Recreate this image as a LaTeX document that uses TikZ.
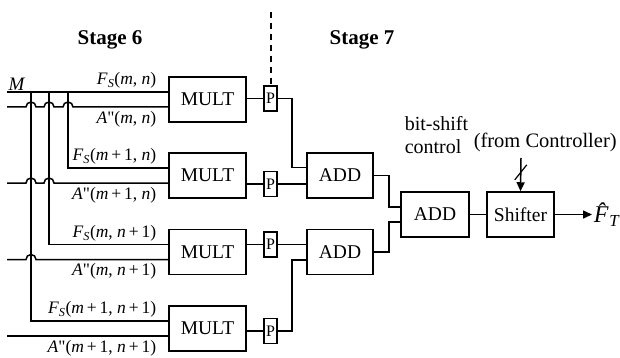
\documentclass[tikz,border=0pt]{standalone}
\usepackage{fontspec}
\setmainfont{Liberation Serif}
\usetikzlibrary{arrows.meta,positioning,calc}
\newcommand{\vi}[1]{\textit{#1}}
\newcommand{\Fs}[1]{\vi{F}\textsubscript{\vi{S}}(#1)}
\newcommand{\Ad}[1]{\vi{A}\textquotedbl(#1)}
\newcommand{\pl}{\,+\,}
\begin{document}
\begin{tikzpicture}[x=1pt,y=1pt,line width=1.5pt,
  blk/.style={draw,minimum height=45pt,inner sep=0pt,font=\fontsize{19.5}{20}\selectfont},
  pblk/.style={draw,minimum width=13pt,minimum height=25pt,inner sep=0pt,font=\fontsize{16}{16}\selectfont},
  lbl/.style={inner sep=1pt,font=\fontsize{17.5}{19}\selectfont},
  stg/.style={font=\bfseries\fontsize{21}{24}\selectfont},
  >={Triangle[length=9pt,width=8pt]}]
\useasboundingbox (0,0) rectangle (620,-358);
\node[stg] (s6) at (110,-40) {Stage 6};
\node[stg] (s7) at (362,-40) {Stage 7};
\node[blk,minimum width=77pt] (m1) at (207.5,-99.5) {MULT};
\node[blk,minimum width=77pt] (m2) at (207.5,-175.5) {MULT};
\node[blk,minimum width=77pt] (m3) at (207.5,-252) {MULT};
\node[blk,minimum width=77pt] (m4) at (207.5,-328.5) {MULT};
\node[pblk] (p1) at (270.5,-98.5) {P};
\node[pblk] (p2) at (270.5,-184) {P};
\node[pblk] (p3) at (270.5,-244.5) {P};
\node[pblk] (p4) at (270.5,-331) {P};
\node[blk,minimum width=66pt] (add1) at (340,-175.5) {ADD};
\node[blk,minimum width=66pt] (add2) at (340,-252) {ADD};
\node[blk,minimum width=68pt] (add3) at (435,-214.5) {ADD};
\node[blk,minimum width=67pt] (sh) at (520.5,-214.5) {Shifter};
\coordinate (out) at (592,-214.5);
\node[anchor=west,inner sep=1pt,font=\fontsize{24}{24}\selectfont] (ft) at (out) {\vi{\^{F}}\kern-0.33em\textsubscript{\vi{T}}};
\coordinate (ctl) at (521,-158);
\node[anchor=north west,align=left,inner sep=0pt,font=\fontsize{20}{23}\selectfont] (bs) at (404,-116) {bit-shift\\control};
\node[anchor=base west,inner sep=0pt,font=\fontsize{20.5}{23}\selectfont] (fc) at (473,-148) {(from Controller)};
\coordinate (cut) at (270.5,-12);
\draw[line width=2pt,dash pattern=on 6pt off 5pt] (cut) -- (p1.north);
\coordinate (fs1) at (7,-92);
\coordinate (a1) at (7,-107);
\coordinate (a2) at (7,-183);
\coordinate (a3) at (7,-259.5);
\coordinate (a4) at (7,-336);
\coordinate (j1) at (31,-92);
\coordinate (j2) at (49,-92);
\coordinate (j3) at (68,-92);
\node[lbl,anchor=south west,font=\fontsize{19}{19}\selectfont] (mm) at (fs1) {\vi{M}};
\draw (fs1) -- ([yshift=7.5pt]m1.west);
\draw (j3) |- ([yshift=7.5pt]m2.west);
\draw (j2) |- ([yshift=7.5pt]m3.west);
\draw (j1) |- ([yshift=7.5pt]m4.west);
\draw (a1) -- ++(19,0) arc[start angle=180,end angle=0,radius=5] -- ++(8,0) arc[start angle=180,end angle=0,radius=5]
  -- ++(9,0) arc[start angle=180,end angle=0,radius=5] -- ([yshift=-7.5pt]m1.west);
\draw (a2) -- ++(19,0) arc[start angle=180,end angle=0,radius=5] -- ++(8,0) arc[start angle=180,end angle=0,radius=5]
  -- ([yshift=-7.5pt]m2.west);
\draw (a3) -- ++(19,0) arc[start angle=180,end angle=0,radius=5] -- ([yshift=-7.5pt]m3.west);
\draw (a4) -- ([yshift=-7.5pt]m4.west);
\node[lbl,anchor=south east] (f1) at (158,-90) {\Fs{\vi{m}, \vi{n}}};
\node[lbl,anchor=north east] (d1) at (158,-110) {\Ad{\vi{m}, \vi{n}}};
\node[lbl,anchor=south east] (f2) at (158,-166) {\Fs{\vi{m}\pl1, \vi{n}}};
\node[lbl,anchor=north east] (d2) at (158,-186) {\Ad{\vi{m}\pl1, \vi{n}}};
\node[lbl,anchor=south east] (f3) at (158,-243) {\Fs{\vi{m}, \vi{n}\pl1}};
\node[lbl,anchor=north east] (d3) at (158,-262) {\Ad{\vi{m}, \vi{n}\pl1}};
\node[lbl,anchor=south east] (f4) at (158,-319) {\Fs{\vi{m}\pl1, \vi{n}\pl1}};
\node[lbl,anchor=north east] (d4) at (158,-339) {\Ad{\vi{m}\pl1, \vi{n}\pl1}};
\draw (p1.west -| m1.east) -- (p1.west);
\draw (p2.west -| m2.east) -- (p2.west);
\draw (p3.west -| m3.east) -- (p3.west);
\draw (p4.west -| m4.east) -- (p4.west);
\draw (p1.east) -- ++(14,0) |- ([yshift=8pt]add1.west);
\draw (p2.east) -- (p2.east -| add1.west);
\draw (p3.east) -- (p3.east -| add2.west);
\draw (p4.east) -- ++(14,0) |- ([yshift=-8pt]add2.west);
\draw (add1.east) -- ++(15,0) |- ([yshift=7.5pt]add3.west);
\draw (add2.east) -- ++(15,0) |- ([yshift=-7.5pt]add3.west);
\draw (add3) -- (sh);
\draw[->] (sh) -- (out);
\draw[->] (ctl) -- (sh.north);
\coordinate (sl) at ($(ctl)!0.43!(sh.north)$);
\draw[line width=1.2pt] ($(sl)+(-6,-7.5)$) -- ($(sl)+(6,7.5)$);
\end{tikzpicture}
\end{document}
